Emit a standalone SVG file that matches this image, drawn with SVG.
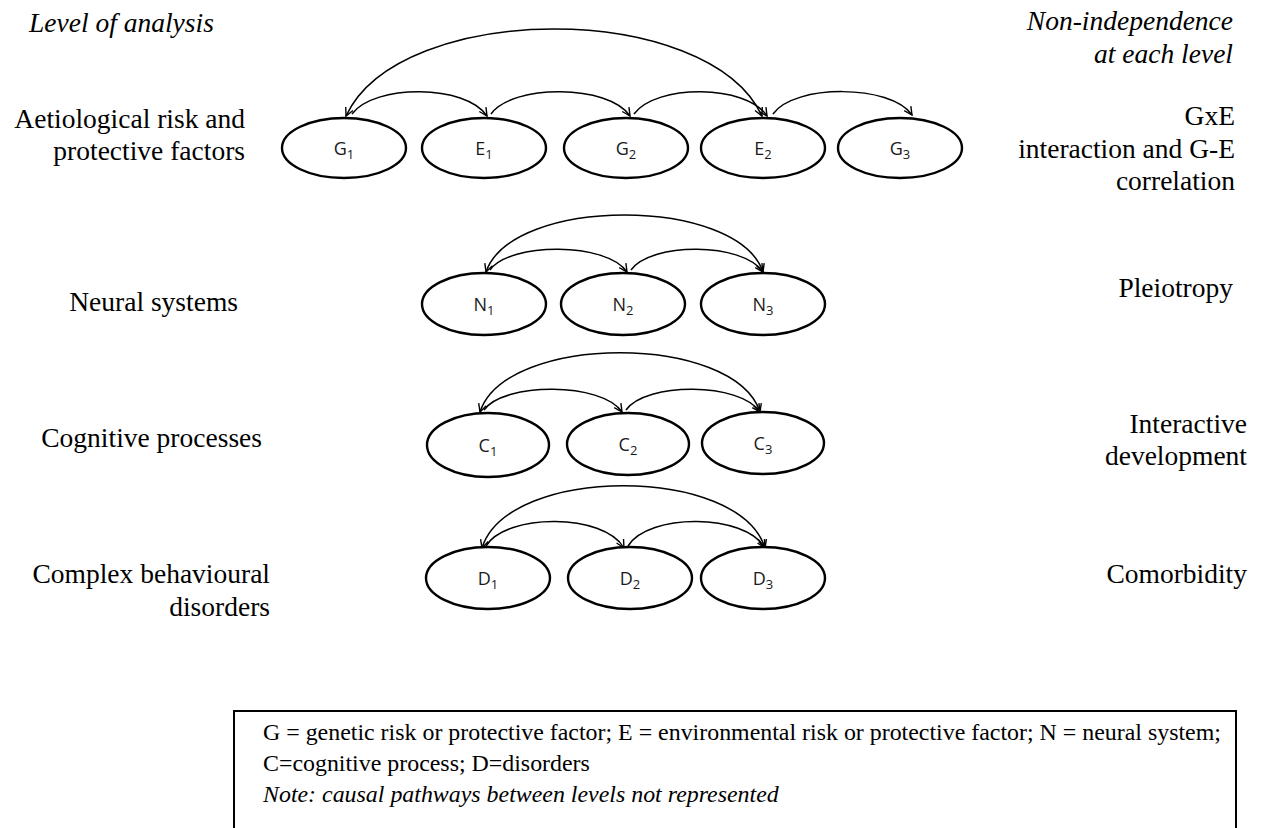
<svg xmlns="http://www.w3.org/2000/svg" width="1264" height="828" viewBox="0 0 1264 828">
  <defs>
    <marker id="vhead" viewBox="0 0 10 10" refX="9" refY="5" markerWidth="10" markerHeight="10" markerUnits="userSpaceOnUse" orient="auto-start-reverse">
      <path d="M1,1 L9,5 L1,9" fill="none" stroke="#000" stroke-width="1.4"/>
    </marker>
    <style>
      .serif { font-family: "Liberation Serif", "Times New Roman", serif; fill: #000; }
      .lab { font-size: 27.5px; }
      .ital { font-style: italic; }
      .node ellipse { fill: #fff; stroke: #000; stroke-width: 2.4; }
      .node text { font-family: "Open Sans", "Noto Sans", sans-serif; font-size: 18px; fill: #1a1a1a; text-anchor: middle; }
      .node tspan.sub { font-size: 13px; }
      .arc { fill: none; stroke: #000; stroke-width: 1.5; }
      .one { marker-end: url(#vhead); }
      .both { marker-start: url(#vhead); marker-end: url(#vhead); }
      .legend { font-size: 23.9px; }
    </style>
  </defs>

  <rect width="1264" height="828" fill="#fff"/>

  <!-- column headings -->
  <text class="serif lab ital" x="29" y="32">Level of analysis</text>
  <g class="serif lab ital" text-anchor="end">
    <text x="1233" y="30">Non-independence</text>
    <text x="1233" y="63">at each level</text>
  </g>

  <!-- level labels (left) -->
  <g class="serif lab" text-anchor="end">
    <text x="245" y="128">Aetiological risk and</text>
    <text x="245" y="160">protective factors</text>
    <text x="238" y="311">Neural systems</text>
    <text x="262" y="447">Cognitive processes</text>
    <text x="270" y="583">Complex behavioural</text>
    <text x="270" y="616">disorders</text>
  </g>

  <!-- non-independence labels (right) -->
  <g class="serif lab" text-anchor="end">
    <text x="1235" y="125">GxE</text>
    <text x="1235" y="158">interaction and G-E</text>
    <text x="1235" y="190">correlation</text>
    <text x="1233" y="297">Pleiotropy</text>
    <text x="1247" y="433">Interactive</text>
    <text x="1247" y="465">development</text>
    <text x="1247" y="583">Comorbidity</text>
  </g>

  <!-- connectors -->
  <g id="connectors">
    <!-- aetiological level -->
    <path class="arc both" d="M346,116 C400,0 708,0 762,116"/>
    <path class="arc one" d="M352,114 C374,84 466,84 487,116"/>
    <path class="arc one" d="M491,114 C512,84 609,84 630,116"/>
    <path class="arc one" d="M634,114 C656,84 746,84 767,116"/>
    <path class="arc one" d="M773,114 C794,84 891,84 912,115"/>
    <!-- neural level -->
    <path class="arc both" d="M486,272 C512,196 737,196 763,272"/>
    <path class="arc one" d="M490,270 C510,242 607,242 627,272"/>
    <path class="arc one" d="M631,270 C651,242 743,242 763,272"/>
    <!-- cognitive level -->
    <path class="arc both" d="M480,412 C506,333 734,333 760,412"/>
    <path class="arc one" d="M484,410 C504,382 602,382 622,412"/>
    <path class="arc one" d="M626,410 C646,382 740,382 760,412"/>
    <!-- disorder level -->
    <path class="arc both" d="M482,548 C508,465 739,465 765,548"/>
    <path class="arc one" d="M486,546 C506,513 604,513 624,548"/>
    <path class="arc one" d="M628,546 C648,513 745,513 765,548"/>
  </g>

  <!-- nodes: aetiological factors -->
  <g id="G1" class="node"><ellipse cx="344" cy="148" rx="62" ry="30"/><text x="344" y="155">G<tspan class="sub" dy="4">1</tspan></text></g>
  <g id="E1" class="node"><ellipse cx="484" cy="148" rx="62" ry="30"/><text x="484" y="155">E<tspan class="sub" dy="4">1</tspan></text></g>
  <g id="G2" class="node"><ellipse cx="626" cy="148" rx="62" ry="30"/><text x="626" y="155">G<tspan class="sub" dy="4">2</tspan></text></g>
  <g id="E2" class="node"><ellipse cx="763" cy="148" rx="62" ry="30"/><text x="763" y="155">E<tspan class="sub" dy="4">2</tspan></text></g>
  <g id="G3" class="node"><ellipse cx="900" cy="148" rx="62" ry="30"/><text x="900" y="155">G<tspan class="sub" dy="4">3</tspan></text></g>

  <!-- nodes: neural systems -->
  <g id="N1" class="node"><ellipse cx="484" cy="304" rx="62" ry="31"/><text x="484" y="311">N<tspan class="sub" dy="4">1</tspan></text></g>
  <g id="N2" class="node"><ellipse cx="623" cy="304" rx="62" ry="31"/><text x="623" y="311">N<tspan class="sub" dy="4">2</tspan></text></g>
  <g id="N3" class="node"><ellipse cx="763" cy="304" rx="62" ry="31"/><text x="763" y="311">N<tspan class="sub" dy="4">3</tspan></text></g>

  <!-- nodes: cognitive processes -->
  <g id="C1" class="node"><ellipse cx="488" cy="445" rx="61" ry="32"/><text x="488" y="452">C<tspan class="sub" dy="4">1</tspan></text></g>
  <g id="C2" class="node"><ellipse cx="628" cy="444" rx="61" ry="31"/><text x="628" y="451">C<tspan class="sub" dy="4">2</tspan></text></g>
  <g id="C3" class="node"><ellipse cx="763" cy="443" rx="61" ry="31"/><text x="763" y="450">C<tspan class="sub" dy="4">3</tspan></text></g>

  <!-- nodes: disorders -->
  <g id="D1" class="node"><ellipse cx="488" cy="578" rx="62" ry="31"/><text x="488" y="585">D<tspan class="sub" dy="4">1</tspan></text></g>
  <g id="D2" class="node"><ellipse cx="630" cy="578" rx="62" ry="31"/><text x="630" y="585">D<tspan class="sub" dy="4">2</tspan></text></g>
  <g id="D3" class="node"><ellipse cx="763" cy="578" rx="62" ry="31"/><text x="763" y="585">D<tspan class="sub" dy="4">3</tspan></text></g>

  <!-- key -->
  <g id="key">
    <rect x="234" y="711" width="1002" height="140" fill="none" stroke="#000" stroke-width="2"/>
    <text class="serif legend" x="263" y="740">G = genetic risk or protective factor; E = environmental risk or protective factor; N = neural system;</text>
    <text class="serif legend" x="263" y="771">C=cognitive process; D=disorders</text>
    <text class="serif legend ital" x="263" y="802">Note: causal pathways between levels not represented</text>
  </g>
</svg>
